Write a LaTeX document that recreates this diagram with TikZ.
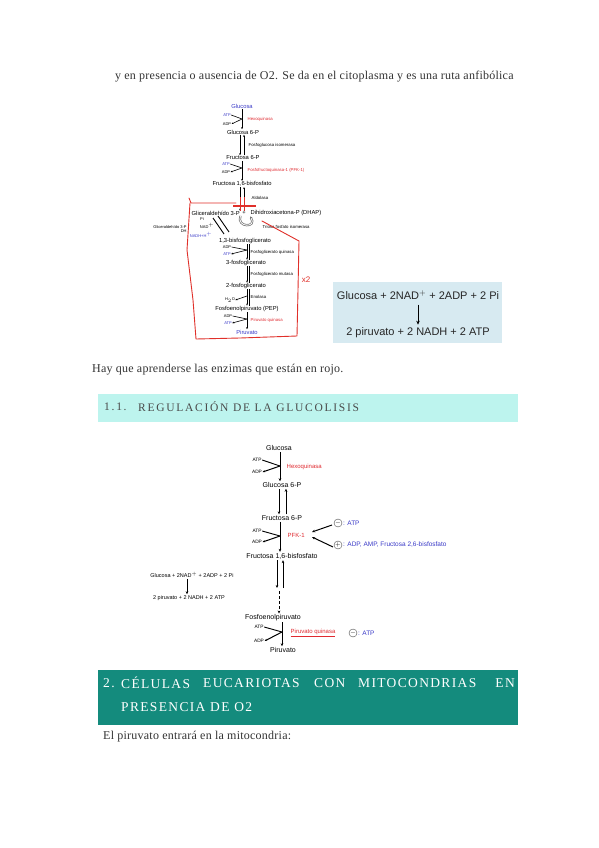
\documentclass[tikz,border=0pt]{standalone}
\usepackage{fontspec}
\setmainfont{Liberation Serif}
\setsansfont{Liberation Sans}
\newfontfamily\spacedserif[LetterSpace=10]{Liberation Serif}
\newfontfamily\widespaced[LetterSpace=15]{Liberation Serif}
\newfontfamily\bodyserif[LetterSpace=2]{Liberation Serif}
\usetikzlibrary{arrows.meta}
\definecolor{bodygray}{HTML}{333333}
\definecolor{hdrgray}{HTML}{4A4A4A}
\definecolor{cyanbar}{HTML}{BDF4EE}
\definecolor{tealbar}{HTML}{148B7D}
\definecolor{eqbox}{HTML}{D7EAF1}
\definecolor{pathblue}{HTML}{3A3AC8}
\definecolor{pathred}{HTML}{E02A30}
\definecolor{outlinered}{HTML}{E0302A}
\begin{document}
\begin{tikzpicture}[x=1pt,y=-1pt,
  body/.style={font=\bodyserif\fontsize{12}{14}\selectfont, text=bodygray, inner sep=0pt, anchor=west},
  hdr/.style={font=\widespaced\fontsize{11.5}{13}\selectfont, text=hdrgray, inner sep=0pt, anchor=west},
  thdr/.style={font=\spacedserif\fontsize{13.5}{15}\selectfont, text=white, inner sep=0pt, anchor=west},
  tmet/.style={font=\sffamily\fontsize{5.8}{6}\selectfont, inner sep=0.5pt},
  tenz/.style={font=\sffamily\fontsize{4.3}{5}\selectfont, inner sep=0.5pt, anchor=west},
  tcof/.style={font=\sffamily\fontsize{4}{5}\selectfont, inner sep=0.3pt},
  rmet/.style={font=\sffamily\fontsize{7}{8}\selectfont, inner sep=1pt},
  rcof/.style={font=\sffamily\fontsize{4.8}{5}\selectfont, inner sep=0.5pt},
  renz/.style={font=\sffamily\fontsize{6}{7}\selectfont, text=pathred, inner sep=0.5pt, anchor=west},
  reff/.style={font=\sffamily\fontsize{6.5}{7}\selectfont, text=pathblue, inner sep=0pt, anchor=west},
  sign/.style={circle, draw=black!70, line width=0.4pt, inner sep=0pt, minimum size=8pt, font=\sffamily\fontsize{6}{6}\selectfont},
  eqtext/.style={font=\sffamily\fontsize{11}{12}\selectfont, text=black!85, inner sep=0pt},
  seq/.style={font=\sffamily\fontsize{5.5}{6}\selectfont, inner sep=0pt},
  arr/.style={-{Stealth[length=3pt,width=2.6pt]}, line width=1pt},
  tarr/.style={-{Stealth[length=2pt,width=1.8pt]}, line width=0.6pt},
  cof/.style={line width=0.6pt}
]
\useasboundingbox (0,0) rectangle (599,848);
\fill[white] (0,0) rectangle (599,848);

% ---------- body text ----------
\node[body] (line1) at (115,77) {y en presencia o ausencia de O2. Se da en el citoplasma y es una ruta anfibólica};

% ---------- top glycolysis figure ----------
\coordinate (tax) at (242,0);
\node[tmet, text=pathblue] (t-glc) at (242,106) {Glucosa};
\node[tcof, text=pathblue] (t-atp1) at (227,115) {ATP};
\node[tcof] (t-adp1) at (227,124) {ADP};
\node[tenz, text=pathred] (t-hk) at (247,119) {Hexoquinasa};
\node[tmet] (t-g6p) at (243,132) {Glucosa 6-P};
\draw[tarr] (t-glc.south -| tax) -- (t-g6p.north -| tax);
\coordinate (t-c1) at (242,119);
\draw[cof] (t-atp1.east) -- (t-c1);
\draw[tarr] (t-c1) -- (t-adp1.east);

\node[tenz] (t-pgi) at (248,145) {Fosfoglucosa isomerasa};
\node[tmet] (t-f6p) at (243,158) {Fructosa 6-P};
\draw[tarr] ([xshift=-2pt]t-g6p.south -| tax) -- ([xshift=-2pt]t-f6p.north -| tax);
\draw[tarr] ([xshift=2pt]t-f6p.north -| tax) -- ([xshift=2pt]t-g6p.south -| tax);

\node[tcof, text=pathblue] (t-atp2) at (226,164) {ATP};
\node[tcof] (t-adp2) at (226,172) {ADP};
\node[tenz, text=pathred] (t-pfk) at (247,170) {Fosfofructoquinasa-1 (PFK-1)};
\node[tmet] (t-f16) at (242,184) {Fructosa 1,6-bisfosfato};
\draw[tarr] (t-f6p.south -| tax) -- (t-f16.north -| tax);
\coordinate (t-c2) at (242,168);
\draw[cof] (t-atp2.east) -- (t-c2);
\draw[tarr] (t-c2) -- (t-adp2.east);

\node[tenz] (t-ald) at (251,198) {Aldolasa};
\node[tmet, anchor=west] (t-gap) at (191,213) {Gliceraldehído 3-P};
\node[tmet] (t-plus) at (244,213) {+};
\node[tmet, anchor=west] (t-dhap) at (250,213) {Dihidroxiacetona-P (DHAP)};
\draw[tarr] ([xshift=-2pt]t-f16.south -| tax) -- ([xshift=-2pt]t-plus.north -| tax);
\draw[tarr] ([xshift=2pt]t-plus.north -| tax) -- ([xshift=2pt]t-f16.south -| tax);

% triose isomerase arc
\draw[black!55, double=white, double distance=0.8pt, line width=0.7pt, -{Stealth[length=2.5pt,width=2.5pt]}]
  (t-gap.south east) .. controls (236,228) and (258,228) .. (t-dhap.south west);
\node[tenz] (t-tim) at (262,227) {Triosa fosfato isomerasa};

% red annotations
\draw[outlinered, line width=1.6pt] (233,206) -- (256,206);
\draw[outlinered, line width=0.8pt] (240,197) -- (240,211) (244,197) -- (244,211);
\draw[outlinered, line width=0.9pt, line join=round, line cap=round]
  (189,198) -- (191,203) -- (236,203);
\draw[outlinered, line width=0.9pt, line join=round, line cap=round]
  (262,221) -- (299,241) -- (298,290) -- (297,336) -- (240,338) -- (196,339) -- (193,300) -- (187,250) -- (190,203);
\node[font=\sffamily\fontsize{8}{8}\selectfont, text=outlinered, inner sep=0pt] (t-x2) at (306,280) {x2};

% GAP dehydrogenase step
\node[font=\sffamily\fontsize{4}{4.5}\selectfont, align=right, inner sep=0pt] (t-gapdh) at (170,229) {Gliceraldehído 3-P\\DH};
\node[tcof] (t-pi) at (202,219) {Pi};
\node[tcof] (t-nad) at (207,226) {NAD$^+$};
\node[tcof, text=pathblue] (t-nadh) at (201,235) {NADH+H$^+$};
\node[tmet] (t-bpg) at (245,241) {1,3-bisfosfoglicerato};
\coordinate (t-d1) at (213,218);
\coordinate (t-d2) at (224,234);
\coordinate (t-d3) at (218,216);
\coordinate (t-d4) at (229,232);
\draw[line width=0.9pt] (t-d1) -- (t-d2);
\draw[line width=0.9pt] (t-d3) -- (t-d4);

\coordinate (tax2) at (247,0);
\node[tcof] (t-adp3) at (227,247) {ADP};
\node[tcof, text=pathblue] (t-atp3) at (227,254) {ATP};
\node[tenz] (t-pgk) at (250,252) {Fosfoglicerato quinasa};
\node[tmet] (t-3pg) at (246,263) {3-fosfoglicerato};
\draw[tarr] (t-bpg.south -| tax2) -- (t-3pg.north -| tax2);
\draw[cof] ([xshift=2pt]t-3pg.north -| tax2) -- ([xshift=2pt]t-bpg.south -| tax2);
\coordinate (t-c3) at (247,250);
\draw[cof] (t-adp3.east) -- (t-c3);
\draw[tarr] (t-c3) -- (t-atp3.east);

\node[tenz] (t-pgm) at (250,274) {Fosfoglicerato mutasa};
\node[tmet] (t-2pg) at (246,286) {2-fosfoglicerato};
\draw[tarr] (t-3pg.south -| tax2) -- (t-2pg.north -| tax2);
\draw[cof] ([xshift=2pt]t-2pg.north -| tax2) -- ([xshift=2pt]t-3pg.south -| tax2);

\node[tcof] (t-h2o) at (230,300) {H$_2$O};
\node[tenz] (t-eno) at (250,297) {Enolasa};
\node[tmet] (t-pep) at (247,309) {Fosfoenolpiruvato (PEP)};
\draw[tarr] (t-2pg.south -| tax2) -- (t-pep.north -| tax2);
\draw[cof] ([xshift=2pt]t-pep.north -| tax2) -- ([xshift=2pt]t-2pg.south -| tax2);
\coordinate (t-c4) at (247,296);
\draw[tarr] (t-c4) -- (t-h2o.east);

\node[tcof] (t-adp4) at (228,316) {ADP};
\node[tcof, text=pathblue] (t-atp4) at (228,323) {ATP};
\node[tenz, text=pathred] (t-pk) at (250,320) {Piruvato quinasa};
\node[tmet, text=pathblue] (t-pyr) at (247,332) {Piruvato};
\draw[tarr] (t-pep.south -| tax2) -- (t-pyr.north -| tax2);
\coordinate (t-c5) at (247,319);
\draw[cof] (t-adp4.east) -- (t-c5);
\draw[tarr] (t-c5) -- (t-atp4.east);

% ---------- summary box ----------
\fill[eqbox] (333,282) rectangle (502,343);
\node[eqtext] (eq1) at (418,295) {Glucosa + 2NAD$^+$ + 2ADP + 2 Pi};
\node[eqtext] (eq2) at (418,333) {2 piruvato + 2 NADH + 2 ATP};
\draw[-{Stealth[length=4pt,width=3.5pt]}, line width=0.9pt, shorten <=5pt, shorten >=3pt] (eq1.south) -- (eq2.north);

% ---------- text ----------
\node[body] (line2) at (92,370) {Hay que aprenderse las enzimas que están en rojo.};

% ---------- section 1.1 header ----------
\fill[cyanbar] (98,394) rectangle (518,422);
\node[hdr] (h11n) at (104,407) {1.1.};
\node[hdr] (h11t) at (138,407) {REGULACIÓN DE LA GLUCOLISIS};

% ---------- regulation figure ----------
\coordinate (rax) at (280,0);
\node[rmet] (r-glc) at (279,448) {Glucosa};
\node[rcof] (r-atp1) at (257,460) {ATP};
\node[rcof] (r-adp1) at (257,472) {ADP};
\node[renz] (r-hk) at (286,467) {Hexoquinasa};
\node[rmet] (r-g6p) at (282,485) {Glucosa 6-P};
\draw[arr] (r-glc.south -| rax) -- (r-g6p.north -| rax);
\coordinate (r-c1) at (280,466);
\draw[cof, line width=0.9pt] (r-atp1.east) -- (r-c1);
\draw[arr, -{Stealth[length=2.5pt,width=2.2pt]}] (r-c1) -- (r-adp1.east);

\node[rmet] (r-f6p) at (282,518) {Fructosa 6-P};
\draw[arr] ([xshift=-1pt]r-g6p.south -| rax) -- ([xshift=-1pt]r-f6p.north -| rax);
\draw[arr] ([xshift=6pt]r-f6p.north -| rax) -- ([xshift=6pt]r-g6p.south -| rax);

\node[rcof] (r-atp2) at (257,531) {ATP};
\node[rcof] (r-adp2) at (257,542) {ADP};
\node[renz] (r-pfk) at (287,535) {PFK-1};
\node[rmet] (r-f16) at (282,556) {Fructosa 1,6-bisfosfato};
\draw[arr] (r-f6p.south -| rax) -- (r-f16.north -| rax);
\coordinate (r-c2) at (280,536);
\draw[cof, line width=0.9pt] (r-atp2.east) -- (r-c2);
\draw[arr, -{Stealth[length=2.5pt,width=2.2pt]}] (r-c2) -- (r-adp2.east);

\node[sign] (r-m1) at (338,523) {$-$};
\node[reff] (r-e1) at (343,523) {: ATP};
\node[sign] (r-p1) at (338,545) {$+$};
\node[reff] (r-e2) at (343,545) {: ADP, AMP, Fructosa 2,6-bisfosfato};
\coordinate (r-t1) at (312,532);
\coordinate (r-t2) at (312,537);
\coordinate (r-s1) at (332,525);
\coordinate (r-s2) at (333,547);
\draw[arr] (r-s1) -- (r-t1);
\draw[arr] (r-s2) -- (r-t2);

% double arrow + dashed arrow
\coordinate (r-q1) at (277,588);
\coordinate (r-q2) at (279,591);
\coordinate (r-q3) at (283,588);
\node[rmet] (r-pep) at (273,618) {Fosfoenolpiruvato};
\draw[arr] (r-f16.south -| r-q1) -- (r-q1);
\draw[arr] (r-q3) -- (r-f16.south -| r-q3);
\draw[arr, dashed, dash pattern=on 3pt off 2pt] (r-q2) -- (r-pep.north -| r-q2);

\node[rcof] (r-atp3) at (259,627) {ATP};
\node[rcof] (r-adp3) at (259,641) {ADP};
\node[renz] (r-pk) at (290,633) {\underline{Piruvato quinasa}};
\node[rmet] (r-pyr) at (283,650) {Piruvato};
\coordinate (rax3) at (282,0);
\draw[arr] (r-pep.south -| rax3) -- (r-pyr.north -| rax3);
\coordinate (r-c3) at (282,632);
\draw[cof, line width=0.9pt] (r-atp3.east) -- (r-c3);
\draw[arr, -{Stealth[length=2.5pt,width=2.2pt]}] (r-c3) -- (r-adp3.east);
\node[sign] (r-m2) at (353,633) {$-$};
\node[reff] (r-e3) at (358,633) {: ATP};

% small equation
\node[seq] (s-eq1) at (192,575) {Glucosa + 2NAD$^+$ + 2ADP + 2 Pi};
\node[seq] (s-eq2) at (189,598) {2 piruvato + 2 NADH + 2 ATP};
\coordinate (sax) at (187,0);
\draw[arr, shorten <=1pt, shorten >=1pt] (s-eq1.south -| sax) -- (s-eq2.north -| sax);

% ---------- section 2 header ----------
\fill[tealbar] (98,670) rectangle (518,725);
\node[thdr] (h2n) at (103,683) {2.};
\node[thdr] (h2w1) at (121,683) {CÉLULAS};
\node[thdr] (h2w2) at (203,683) {EUCARIOTAS};
\node[thdr] (h2w3) at (314,683) {CON};
\node[thdr] (h2w4) at (358,683) {MITOCONDRIAS};
\node[thdr, anchor=east] (h2w5) at (515,683) {EN};
\node[thdr] (h2l2) at (121,707) {PRESENCIA DE O2};

\node[body] (line3) at (103,737) {El piruvato entrará en la mitocondria:};
\end{tikzpicture}
\end{document}
